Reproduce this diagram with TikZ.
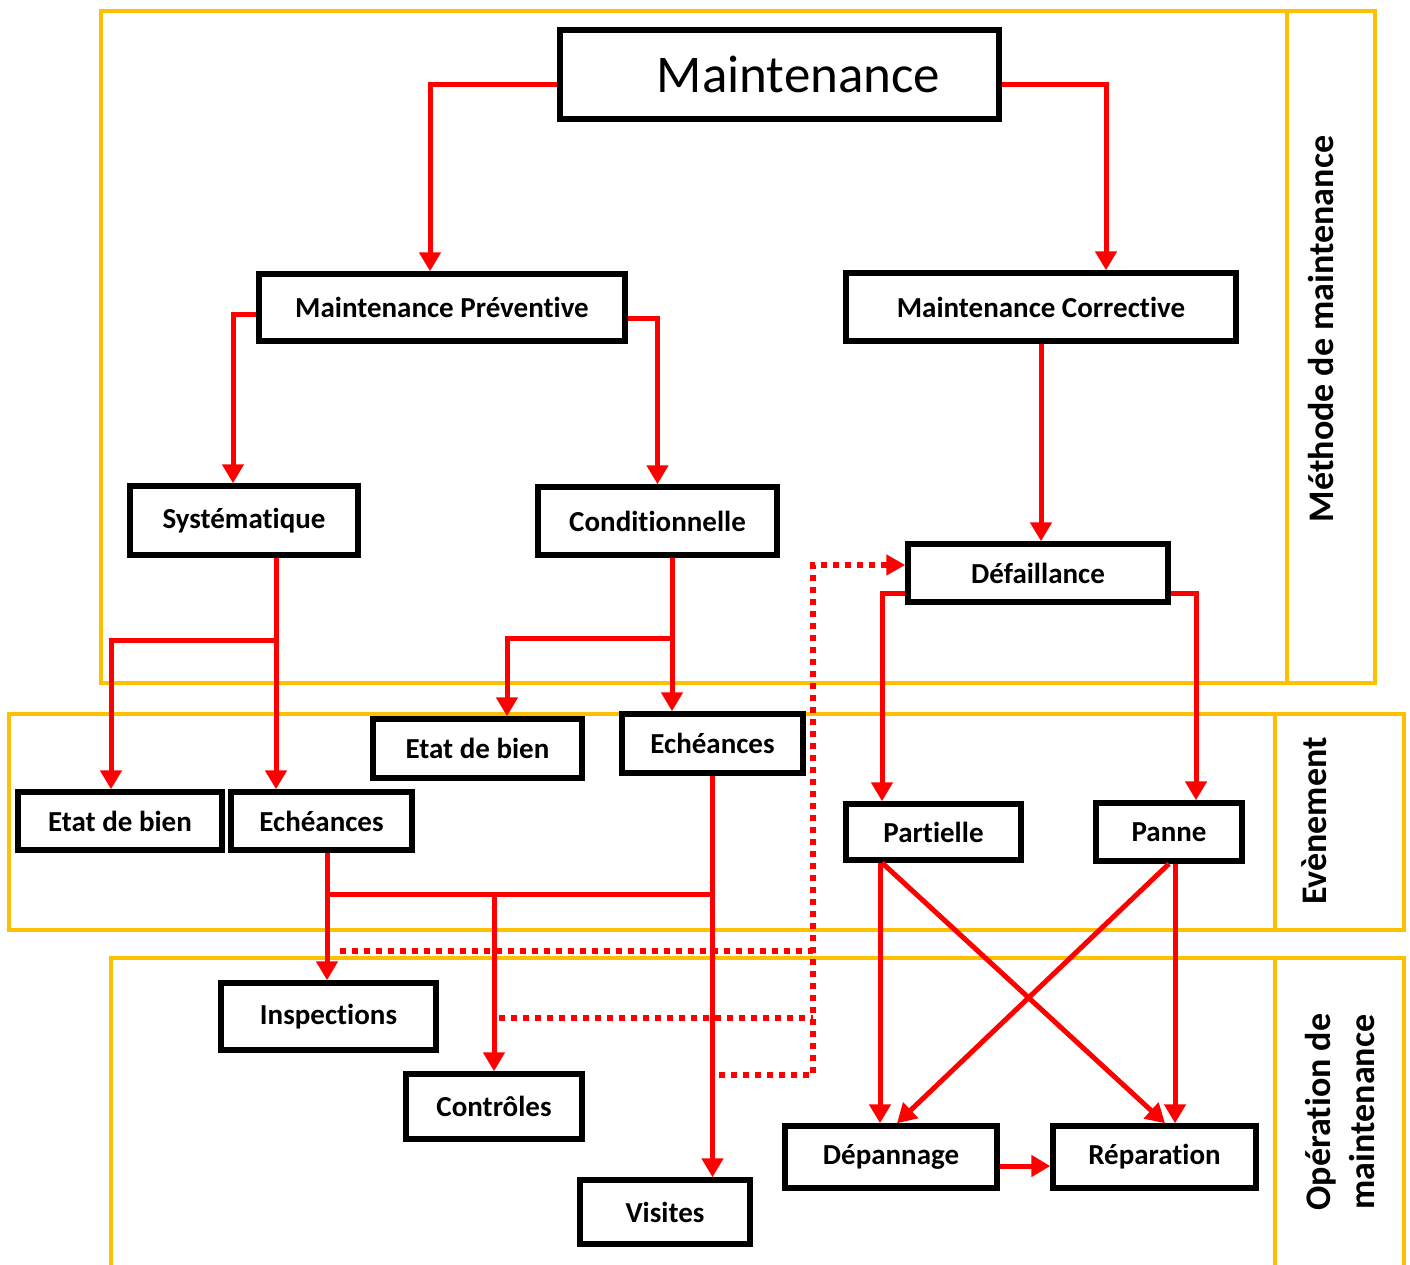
\documentclass[tikz,border=0pt]{standalone}
\usepackage{fontspec}
\setmainfont{Carlito}[Ligatures={NoCommon}]
\usetikzlibrary{arrows.meta}
\definecolor{jaune}{HTML}{FFC000}
\begin{document}
\begin{tikzpicture}[x=1pt,y=-1pt,
    boite/.style={draw,line width=5.5pt,inner sep=0pt,font=\fontsize{29}{32}\selectfont\bfseries},
    fl/.style={red,line width=5pt,-{Triangle[width=21pt,length=19pt]}},
    trait/.style={red,line width=5pt},
    pointille/.style={red,line width=6pt,dash pattern=on 6pt off 6pt},
    cadre/.style={jaune,line width=4.5pt},
    titre/.style={rotate=90,font=\fontsize{36}{44}\selectfont\bfseries,align=center}]
    \useasboundingbox (0,0) rectangle (1410,1264);
    % cadres
    \draw[cadre] (101,11) rectangle (1375,683) (1287,11) -- (1287,683);
    \draw[cadre] (9,714) rectangle (1404,930) (1275,714) -- (1275,930);
    \draw[cadre] (111,1270) |- (1404,958) -- (1404,1270) (1275,958) -- (1275,1270);
    \node[titre] (t1) at (1321,329) {Méthode de maintenance};
    \node[titre] (t2) at (1314,821) {Evènement};
    \node[titre] (t3) at (1340,1112) {Opération de\\maintenance};
    % boites
    \node[boite,minimum width=439pt,minimum height=89pt,font=\fontsize{53}{60}\selectfont] (mt) at (779.5,74.5) {\hspace*{38pt}Maintenance};
    \node[boite,minimum width=366pt,minimum height=67pt] (mp) at (442,307.5) {Maintenance Préventive};
    \node[boite,minimum width=390pt,minimum height=68pt] (mc) at (1041,307) {Maintenance Corrective};
    \node[boite,minimum width=228pt,minimum height=69pt] (sy) at (244,520.5) {Systématique};
    \node[boite,minimum width=239pt,minimum height=68pt] (cd) at (657.5,521) {Conditionnelle};
    \node[boite,minimum width=260pt,minimum height=58pt] (df) at (1038,573) {Défaillance};
    \node[boite,minimum width=209pt,minimum height=59pt] (et2) at (477.5,748.5) {Etat de bien};
    \node[boite,minimum width=181pt,minimum height=59pt] (ec2) at (712.5,743.5) {Echéances};
    \node[boite,minimum width=204pt,minimum height=58pt] (et1) at (120,821) {Etat de bien};
    \node[boite,minimum width=181pt,minimum height=58pt] (ec1) at (321.5,821) {Echéances};
    \node[boite,minimum width=175pt,minimum height=56pt] (pa) at (933.5,832) {Partielle};
    \node[boite,minimum width=146pt,minimum height=58pt] (pn) at (1169,832) {Panne};
    \node[boite,minimum width=215pt,minimum height=67pt] (in) at (328.5,1016.5) {Inspections};
    \node[boite,minimum width=176pt,minimum height=65pt] (co) at (494,1106.5) {Contrôles};
    \node[boite,minimum width=170pt,minimum height=64pt] (vi) at (665,1212) {Visites};
    \node[boite,minimum width=212pt,minimum height=62pt] (dp) at (891,1157) {Dépannage};
    \node[boite,minimum width=203pt,minimum height=62pt] (rp) at (1154.5,1157) {Réparation};
    % liaisons
    \draw[fl] ([yshift=-9.5pt]mt.west) -| ([xshift=-12pt]mp.north);
    \draw[fl] ([yshift=-9.5pt]mt.east) -| ([xshift=65pt]mc.north);
    \draw[fl] ([yshift=-6.5pt]mp.west) -| ([xshift=-11pt]sy.north);
    \draw[fl] ([yshift=-10.5pt]mp.east) -| (cd.north);
    \draw[fl] (mc.south) -- (mc.south |- df.north);
    \draw[fl] ([xshift=32pt]sy.south) -- ([xshift=32pt]sy.south |- ec1.north);
    \draw[fl] ([xshift=32pt]sy.south) -- ++(0,83) -| ([xshift=-9pt]et1.north);
    \draw[fl] ([xshift=14.5pt]cd.south) -- ([xshift=14.5pt]cd.south |- ec2.north);
    \draw[fl] ([xshift=14.5pt]cd.south) -- ++(0,81) -| ([xshift=29.5pt]et2.north);
    \draw[fl] ([yshift=-20pt]df.west) -| ([xshift=-51.5pt]pa.north);
    \draw[fl] ([yshift=-20pt]df.east) -| ([xshift=27pt]pn.north);
    \coordinate (j1) at ([xshift=5.5pt,yshift=-42pt]ec1.south);
    \draw[fl] ([xshift=5.5pt]ec1.south) -- ([xshift=5.5pt]ec1.south |- in.north);
    \draw[trait] (j1) -- (j1 -| ec2.south);
    \draw[fl] (j1 -| co.north) -- (co.north);
    \draw[fl] (ec2.south) -- (ec2.south |- vi.north);
    \draw[fl] ([xshift=-53.5pt]pa.south) -- ([xshift=-53.5pt]pa.south |- dp.north);
    \draw[fl] ([xshift=-51.5pt]pa.south) -- ([xshift=10.5pt]rp.north);
    \draw[fl] (pn.south) -- ([xshift=6pt]dp.north);
    \draw[fl] ([xshift=6pt]pn.south) -- ([xshift=6pt]pn.south |- rp.north);
    \draw[fl] ([yshift=-9pt]dp.east) -- ([yshift=-9pt]rp.west);
    % retours
    \path ([yshift=8pt]df.west) ++(-92,0) coordinate (r1);
    \coordinate (p1) at (340,951);
    \coordinate (p2) at (499,1018);
    \coordinate (p3) at (719,1075);
    \draw[pointille,-{Triangle[width=20pt,length=19pt]}] (p3) -| (r1) -- ([yshift=8pt]df.west);
    \draw[pointille] (p1) -- (p1 -| r1);
    \draw[pointille] (p2) -- (p2 -| r1);
\end{tikzpicture}
\end{document}
